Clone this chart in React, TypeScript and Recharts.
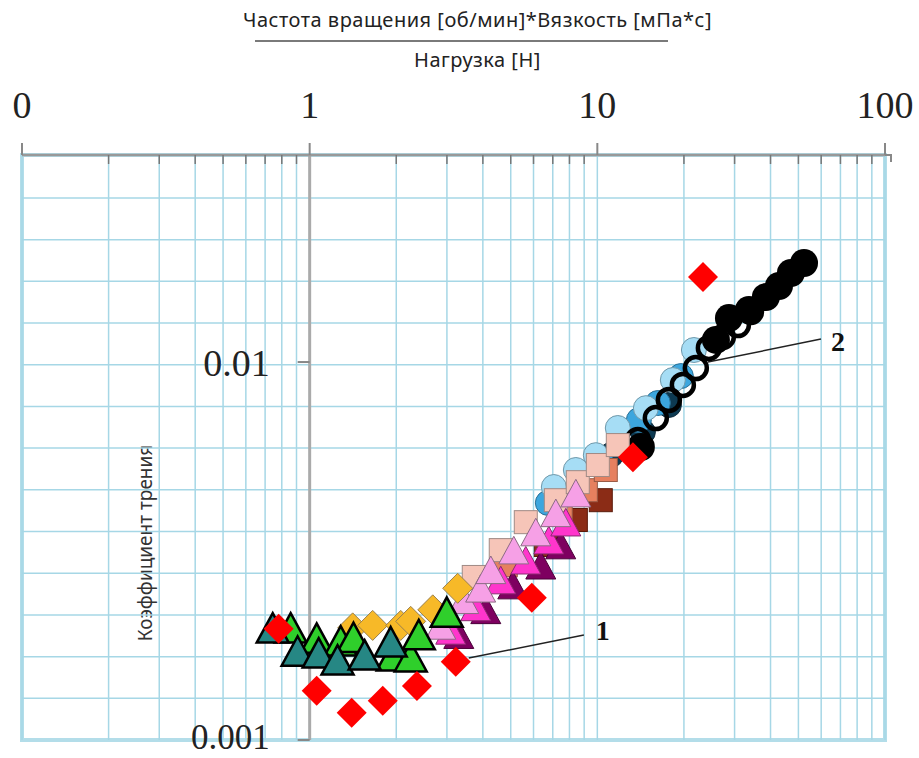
import React from 'react'
import {
  ScatterChart,
  Scatter,
  XAxis,
  YAxis,
  ReferenceLine,
  ReferenceDot,
  ReferenceArea,
} from 'recharts'

// x: speed*viscosity/load, y: friction coefficient (both log)
const xTicks = [
  0.1, 0.2, 0.3, 0.4, 0.5, 0.6, 0.7, 0.8, 0.9, 1, 2, 3, 4, 5, 6, 7, 8, 9, 10, 20, 30, 40, 50, 60, 70, 80,
  90, 100,
]
const xLabels: Record<number, string> = { 0.1: '0', 1: '1', 10: '10', 100: '100' }
const yGridTicks = [
  0.00129, 0.00166, 0.00214, 0.00276, 0.00356, 0.00459, 0.00592, 0.00763, 0.00984, 0.01269,
  0.01635, 0.02108, 0.02718,
]
const yLabels = [
  { value: 0.01, text: '0.01' },
  { value: 0.001, text: '0.001' },
]

const redDiamonds = [
  [0.78, 0.00197], [1.058, 0.00135], [1.4, 0.00118], [1.795, 0.00127], [2.36, 0.00139],
  [3.22, 0.00161], [5.92, 0.00238], [13.3, 0.0056], [23.3, 0.0168],
]
const tealTriangles = [
  [0.744, 0.00198], [0.908, 0.00172], [1.075, 0.0017], [1.25, 0.00163], [1.553, 0.00168],
  [1.913, 0.00182],
]
const greenTriangles = [
  [0.859, 0.00198], [1.058, 0.00186], [1.282, 0.00183], [1.42, 0.00187], [1.944, 0.00167],
  [2.245, 0.00166], [2.395, 0.0019], [2.996, 0.00218],
]
const orangeDiamonds = [
  [1.411, 0.00198], [1.656, 0.00201], [2.073, 0.00201], [2.245, 0.00206], [2.679, 0.00221],
  [3.27, 0.00252],
]
const pinkTriangles = [
  [2.856, 0.00201], [3.434, 0.00235], [3.93, 0.00252], [4.263, 0.00282], [5.124, 0.00318],
  [6.11, 0.00355], [7.173, 0.00399], [8.42, 0.0045],
]
const magentaTriangles = [
  [3.093, 0.00195], [3.779, 0.00225], [4.616, 0.00265], [5.64, 0.00299], [6.78, 0.00338],
  [7.77, 0.00377],
]
const purpleTriangles = [
  [3.299, 0.0019], [4.095, 0.00221], [5.083, 0.00257], [6.36, 0.0029], [7.46, 0.00328],
]
const salmonSquares = [
  [3.719, 0.0027], [4.616, 0.00318], [5.64, 0.00377], [7.173, 0.00431], [8.55, 0.00481],
  [10.04, 0.00534], [11.78, 0.00603],
]
const coralSquares = [[4.805, 0.0029], [7.46, 0.00394], [9.12, 0.00458], [10.7, 0.00518]]
const brownSquares = [[6.62, 0.00328], [8.42, 0.00382], [10.28, 0.00431]]
const lightBlueCircles = [
  [7.06, 0.00467], [8.42, 0.00518], [9.88, 0.00567], [11.78, 0.00669], [14.75, 0.00755],
  [18.3, 0.00896], [21.66, 0.01076],
]
const midBlueCircles = [
  [6.73, 0.00424], [10.28, 0.00544], [13.94, 0.00702], [16.23, 0.00779], [19.51, 0.00918],
]
const navyCircles = [[11.14, 0.00567], [14.4, 0.00653], [17.73, 0.0077]]
const openCircles = [
  [13.83, 0.00622], [15.97, 0.00711], [17.73, 0.00794], [19.83, 0.0087], [22.0, 0.00964],
  [24.42, 0.0109], [27.3, 0.01165], [30.8, 0.01253], [34.2, 0.01357],
]
const blackCircles = [
  [14.17, 0.00596], [25.84, 0.01144], [28.67, 0.01307], [33.65, 0.01373], [38.55, 0.01486],
  [42.8, 0.01589], [47.1, 0.0172], [52.3, 0.01828],
]

// leader lines for the curve numbers
const callouts = [
  { text: '1', from: [3.573, 0.001648], to: [8.98, 0.001896], label: [10.45, 0.00195] },
  { text: '2', from: [24.23, 0.01], to: [59.9, 0.0115], label: [68.6, 0.01137] },
]

const toPoints = (rows: number[][]) => rows.map(([x, y]) => ({ x, y }))

type Mark = { kind: 'diamond' | 'triangle' | 'square' | 'circle'; size: number; fill: string; stroke?: string; sw?: number }

const makeShape = (m: Mark) => (props: any) => {
  const { cx, cy } = props
  if (cx == null || cy == null) return <g />
  const s = m.size / 2
  const common = { fill: m.fill, stroke: m.stroke ?? 'none', strokeWidth: m.sw ?? 0, strokeLinejoin: 'miter' as const }
  if (m.kind === 'diamond')
    return <path d={`M${cx},${cy - s}L${cx + s},${cy}L${cx},${cy + s}L${cx - s},${cy}Z`} {...common} />
  if (m.kind === 'triangle') {
    const h = m.size * 0.92
    return <path d={`M${cx},${cy - h / 2}L${cx + s},${cy + h / 2}L${cx - s},${cy + h / 2}Z`} {...common} />
  }
  if (m.kind === 'square') return <rect x={cx - s} y={cy - s} width={m.size} height={m.size} {...common} />
  return <circle cx={cx} cy={cy} r={s} {...common} />
}

const series: { data: number[][]; mark: Mark }[] = [
  { data: navyCircles, mark: { kind: 'circle', size: 25, fill: '#0d3a52', stroke: '#0d2a3a', sw: 1 } },
  { data: midBlueCircles, mark: { kind: 'circle', size: 25, fill: '#3ca6de', stroke: '#2a6f95', sw: 1 } },
  { data: lightBlueCircles, mark: { kind: 'circle', size: 25, fill: '#a6ddf5', stroke: '#6f98aa', sw: 1 } },
  { data: blackCircles, mark: { kind: 'circle', size: 28, fill: '#000' } },
  { data: openCircles, mark: { kind: 'circle', size: 22, fill: 'none', stroke: '#000', sw: 4.5 } },
  { data: brownSquares, mark: { kind: 'square', size: 23, fill: '#8b2c16', stroke: '#5a1a0a', sw: 1 } },
  { data: coralSquares, mark: { kind: 'square', size: 23, fill: '#e6805f', stroke: '#9a5a45', sw: 1 } },
  { data: salmonSquares, mark: { kind: 'square', size: 23, fill: '#f6c5b8', stroke: '#a08a85', sw: 1 } },
  { data: purpleTriangles, mark: { kind: 'triangle', size: 30, fill: '#7e0060', stroke: '#4a0038', sw: 1 } },
  { data: magentaTriangles, mark: { kind: 'triangle', size: 30, fill: '#ff35cc', stroke: '#8a2a70', sw: 1 } },
  { data: pinkTriangles, mark: { kind: 'triangle', size: 30, fill: '#f6a0e6', stroke: '#8c6a84', sw: 1 } },
  { data: orangeDiamonds, mark: { kind: 'diamond', size: 30, fill: '#f7b928', stroke: '#9a8050', sw: 1 } },
  { data: greenTriangles, mark: { kind: 'triangle', size: 32, fill: '#2fcf2b', stroke: '#000', sw: 2.5 } },
  { data: tealTriangles, mark: { kind: 'triangle', size: 32, fill: '#268784', stroke: '#000', sw: 2.5 } },
  { data: redDiamonds, mark: { kind: 'diamond', size: 30, fill: '#ff0000' } },
]

const XTick = (props: any) => {
  const { x, y, payload } = props
  const v = payload.value
  const label = xLabels[v]
  if (label !== undefined) {
    return (
      <g>
        <line x1={x} y1={y} x2={x} y2={y - 12} stroke="#888" strokeWidth={2} />
        {v === 100 && <polyline points={`${x},${y} ${x + 6},${y} ${x + 6},${y + 7}`} fill="none" stroke="#888" strokeWidth={2} />}
        <text x={x} y={y - 37} textAnchor="middle" fontFamily="'Liberation Serif', serif" fontSize={38} fill="#222">
          {label}
        </text>
      </g>
    )
  }
  return <line x1={x} y1={y} x2={x} y2={y + 9} stroke="#777" strokeWidth={1.5} />
}

const YLabelDot = (text: string, dy: number, size: number) => (props: any) => {
  const { cx, cy } = props
  return (
    <g>
      <line x1={cx - 12} y1={cy} x2={cx} y2={cy} stroke="#888" strokeWidth={2} />
      <text x={cx - 40} y={cy + dy} textAnchor="end" fontFamily="'Liberation Serif', serif" fontSize={size} fill="#222">
        {text}
      </text>
    </g>
  )
}

const CalloutText = (text: string) => (props: any) => (
  <text x={props.cx} y={props.cy + 10} textAnchor="middle" fontFamily="'Liberation Serif', serif" fontWeight="bold" fontSize={28} fill="#111">
    {text}
  </text>
)

const titleStyle: React.CSSProperties = {
  position: 'absolute', left: 0, width: 919, textAlign: 'center', paddingLeft: 18,
  fontFamily: "'Noto Sans', sans-serif", fontSize: 20, color: '#222', letterSpacing: 0.5,
}

export default function App() {
  return (
    <div style={{ position: 'absolute', left: 0, top: 0, width: 919, height: 758, background: '#fff', overflow: 'hidden' }}>
      <div style={{ ...titleStyle, top: 6 }}>Частота вращения [об/мин]*Вязкость [мПа*с]</div>
      <div style={{ position: 'absolute', left: 255, top: 40, width: 413, height: 2, background: '#7a7a7a' }} />
      <div style={{ ...titleStyle, top: 46 }}>Нагрузка [Н]</div>
      <div
        style={{
          position: 'absolute', left: 145, top: 543, transform: 'translate(-50%, -50%) rotate(-90deg)',
          whiteSpace: 'nowrap', fontFamily: "'Noto Sans', sans-serif", fontSize: 19, color: '#333',
        }}
      >
        Коэффициент трения
      </div>
      <div style={{ position: 'absolute', left: 0, top: 0 }}>
        <ScatterChart width={919} height={758} margin={{ top: 95, right: 34, bottom: 18, left: 22 }}>
          {xTicks.map((v) => (
            <ReferenceLine key={'vx' + v} x={v} stroke="#a6d7e6" strokeWidth={1.5} />
          ))}
          {yGridTicks.map((v) => (
            <ReferenceLine key={'hy' + v} y={v} stroke="#a6d7e6" strokeWidth={1.5} />
          ))}
          <XAxis
            type="number"
            dataKey="x"
            scale="log"
            domain={[0.1, 100]}
            allowDataOverflow
            orientation="top"
            height={60}
            ticks={xTicks}
            interval={0}
            tickSize={0}
            tickMargin={0}
            tickLine={false}
            tick={<XTick />}
            axisLine={{ stroke: '#999', strokeWidth: 2.5 }}
          />
          <YAxis
            type="number"
            dataKey="y"
            scale="log"
            domain={[0.001, 0.0353]}
            allowDataOverflow
            width={0}
            tick={false}
            tickLine={false}
            axisLine={false}
          />
          <ReferenceArea
            x1={0.1}
            x2={100}
            y1={0.001}
            y2={0.0353}
            fill="none"
            stroke="#b3dde9"
            strokeWidth={4}
            ifOverflow="visible"
          />
          <ReferenceLine x={1} stroke="#aaa" strokeWidth={3} />
          {yLabels.map((l) => (
            <ReferenceDot
              key={l.text}
              x={1}
              y={l.value}
              ifOverflow="visible"
              shape={l.value === 0.01 ? YLabelDot(l.text, 14, 38) : YLabelDot(l.text, 9, 35)}
            />
          ))}
          {series.map((s, i) => (
            <Scatter key={i} data={toPoints(s.data)} shape={makeShape(s.mark)} isAnimationActive={false} />
          ))}
          {callouts.map((c) => (
            <ReferenceLine
              key={'l' + c.text}
              segment={[
                { x: c.from[0], y: c.from[1] },
                { x: c.to[0], y: c.to[1] },
              ]}
              stroke="#222"
              strokeWidth={1.5}
            />
          ))}
          {callouts.map((c) => (
            <ReferenceDot key={'t' + c.text} x={c.label[0]} y={c.label[1]} ifOverflow="visible" shape={CalloutText(c.text)} />
          ))}
        </ScatterChart>
      </div>
    </div>
  )
}
